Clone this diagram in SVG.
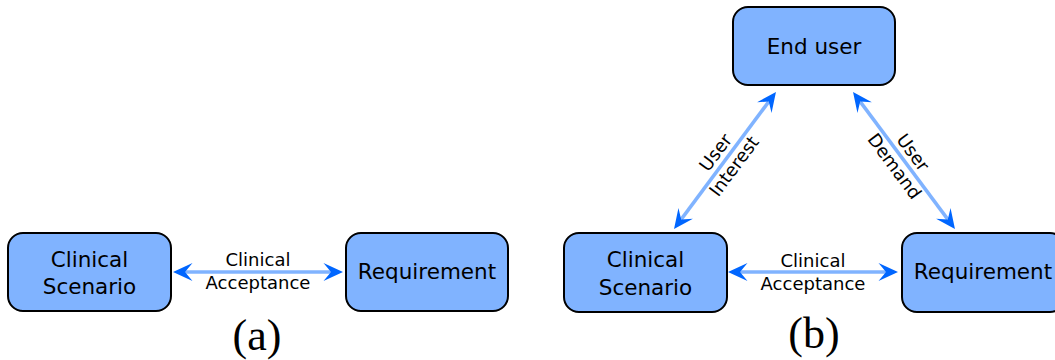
<svg xmlns="http://www.w3.org/2000/svg" width="1055" height="360" viewBox="0 0 1055 360">
<style>
.box{fill:#80b3ff;stroke:#000;stroke-width:2}
.bt{font-family:"DejaVu Sans",Verdana,sans-serif;font-size:21.5px;fill:#000;text-anchor:middle}
.et{font-family:"DejaVu Sans",Verdana,sans-serif;font-size:18px;fill:#000;text-anchor:middle}
.conn{stroke:#80b3ff;stroke-width:3.5;fill:none;marker-start:url(#ah);marker-end:url(#ah)}
.cap{font-family:"Liberation Serif","DejaVu Serif",serif;font-size:44px;fill:#000;text-anchor:middle}
</style>
<defs>
<marker id="ah" markerUnits="userSpaceOnUse" overflow="visible" refX="0" refY="0" markerWidth="1" markerHeight="1" orient="auto-start-reverse">
<path d="M12 0 L-7.5 -9 L0 0 L-7.5 9 Z" fill="#0066ff"/>
</marker>
</defs>
<g id="connectors">
<line class="conn" x1="185" y1="272" x2="331" y2="272"/>
<line class="conn" x1="740" y1="272" x2="886" y2="272"/>
<line class="conn" x1="681.2" y1="219.4" x2="768.8" y2="101.6"/>
<line class="conn" x1="860.2" y1="101.6" x2="947.8" y2="219.4"/>
</g>
<g id="labels">
<text class="et" x="258" y="266">Clinical</text>
<text class="et" x="258" y="289">Acceptance</text>
<text class="et" x="813" y="267">Clinical</text>
<text class="et" x="813" y="290">Acceptance</text>
<g transform="translate(725,159.5) rotate(-53.3)">
<text class="et" x="0" y="-5.5">User</text>
<text class="et" x="0" y="17.5">Interest</text>
</g>
<g transform="translate(903.5,159.5) rotate(53.3)">
<text class="et" x="0" y="-5.5">User</text>
<text class="et" x="0" y="17.5">Demand</text>
</g>
</g>
<g id="a-scenario">
<rect class="box" x="8" y="233" width="163" height="78" rx="15"/>
<text class="bt" x="89.5" y="267">Clinical</text>
<text class="bt" x="89.5" y="294">Scenario</text>
</g>
<g id="a-requirement">
<rect class="box" x="346" y="233" width="162" height="78" rx="15"/>
<text class="bt" x="427" y="279">Requirement</text>
</g>
<g id="b-enduser">
<rect class="box" x="733" y="7" width="162" height="78" rx="15"/>
<text class="bt" x="814" y="54">End user</text>
</g>
<g id="b-scenario">
<rect class="box" x="564" y="233" width="163" height="79" rx="15"/>
<text class="bt" x="645.5" y="267">Clinical</text>
<text class="bt" x="645.5" y="295">Scenario</text>
</g>
<g id="b-requirement">
<rect class="box" x="902" y="233" width="163" height="79" rx="15"/>
<text class="bt" x="983" y="279">Requirement</text>
</g>
<text class="cap" x="257" y="350">(a)</text>
<text class="cap" x="814" y="348">(b)</text>
</svg>
